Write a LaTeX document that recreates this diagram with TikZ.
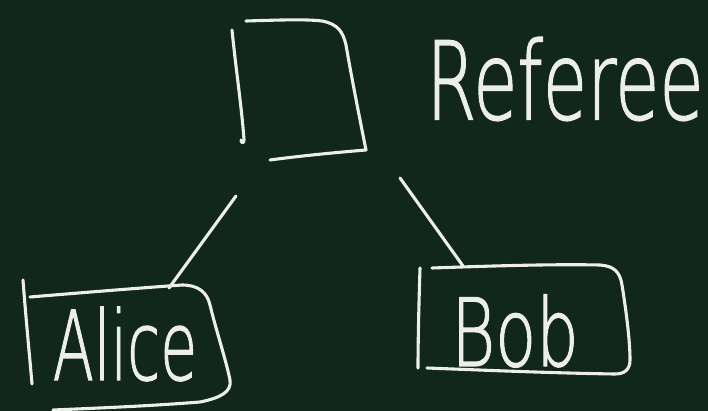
\documentclass[tikz,border=0pt]{standalone}
\usepackage{fontspec}
\newfontfamily\handfont[FakeBold=1.5]{DejaVu Sans ExtraLight}
\definecolor{board}{RGB}{17,39,30}
\definecolor{chalk}{RGB}{236,238,234}
\tikzset{
  chalkline/.style={draw=chalk, line width=3.1pt, line cap=round, line join=round},
  chalktext/.style={text=chalk, inner sep=0pt, font=\handfont}
}
\begin{document}
\begin{tikzpicture}[x=1pt,y=-1pt]
\fill[board] (0,0) rectangle (708,411);
\useasboundingbox (0,0) rectangle (708,411);
% Referee box
\draw[chalkline] (232,30) .. controls (236,70) and (242,110) .. (244,140) .. controls (244,144) and (241,143) .. (241,140);
\draw[chalkline] (246,21) .. controls (280,20) and (305,19) .. (322,21) .. controls (338,24) and (343,32) .. (346,45) .. controls (352,80) and (360,120) .. (366,150) .. controls (330,153) and (300,156) .. (270,160);
\node[chalktext, yscale=1.5, font=\handfont\fontsize{72}{72}\selectfont] (ref) at (565,79) {Referee};
% Alice box
\draw[chalkline] (23,280) .. controls (26,320) and (30,360) .. (32,384);
\draw[chalkline] (30,297) .. controls (90,292) and (140,288) .. (182,285) .. controls (198,285) and (207,292) .. (210,305) .. controls (216,330) and (226,360) .. (230,380) .. controls (232,392) and (220,398) .. (200,402) .. controls (150,406) and (100,408) .. (53,410);
\node[chalktext, yscale=1.6, font=\handfont\fontsize{60}{60}\selectfont] (alice) at (125,344) {Alice};
% Bob box
\draw[chalkline] (420,268) .. controls (419,300) and (418,340) .. (418,368);
\draw[chalkline] (432,268) .. controls (490,266) and (550,264) .. (600,265) .. controls (614,266) and (620,272) .. (622,285) .. controls (626,310) and (630,340) .. (630,360) .. controls (630,370) and (624,374) .. (615,374) .. controls (550,373) and (480,370) .. (427,368);
\node[chalktext, yscale=1.4, font=\handfont\fontsize{67}{67}\selectfont] (bob) at (515,331) {Bob};
% connectors
\coordinate (refL) at (236,196);
\coordinate (refR) at (400,178);
\coordinate (aliceTop) at (169,288);
\coordinate (bobTop) at (463,266);
\draw[chalkline] (refL) -- (aliceTop);
\draw[chalkline] (refR) -- (bobTop);
\end{tikzpicture}
\end{document}
